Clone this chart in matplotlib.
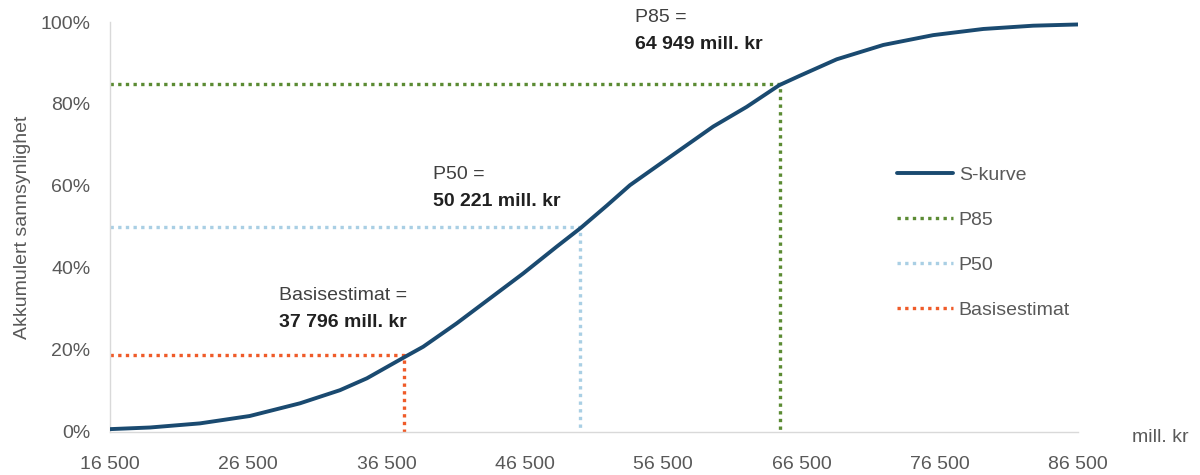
import matplotlib
matplotlib.use("Agg")
import matplotlib.pyplot as plt
from matplotlib.ticker import FuncFormatter

plt.rcParams['font.family'] = ['Liberation Sans', 'DejaVu Sans']

# S-curve (cumulative probability, %)
cost = [16500, 19400, 23000, 26600, 30240, 33130, 35080, 37760, 39150, 41570,
        43980, 46390, 48800, 50550, 52420, 54100, 57000, 60120, 62540, 64900,
        66390, 69050, 72420, 76030, 79650, 83260, 86500]
prob = [0.7, 1.1, 2.1, 3.9, 7.0, 10.2, 13.1, 18.2, 20.8, 26.5,
        32.6, 38.7, 45.2, 49.8, 55.2, 60.2, 67.1, 74.5, 79.3, 84.6,
        86.9, 90.9, 94.4, 96.8, 98.3, 99.1, 99.4]

# marker lines (x position, probability) and the labelled values
p85_x, p85_y, p85_label = 64949, 84.9, "64 949"
p50_x, p50_y, p50_label = 50500, 50.0, "50 221"
basis_x, basis_y, basis_label = 37796, 18.8, "37 796"

xticks = [16500, 26500, 36500, 46500, 56500, 66500, 76500, 86500]
yticks = [0, 20, 40, 60, 80, 100]

navy = '#1A4A70'
green = '#5B8B33'
lightblue = '#A9CFE4'
orange = '#EF5B29'
gray = '#595959'

fig = plt.figure(figsize=(12, 4.75), dpi=100)
ax = fig.add_axes([110/1200, 1-432/475, 968/1200, 410/475])

dots = (0, (1.0, 1.3))
lw_d = 2.4
kw = dict(lw=lw_d, ls=dots, dash_capstyle='butt')
ax.plot(cost, prob, color=navy, lw=2.8, label='S-kurve', solid_capstyle='round', zorder=3)
ax.plot([xticks[0], p85_x, p85_x], [p85_y, p85_y, 0], color=green, label='P85', **kw)
ax.plot([xticks[0], p50_x, p50_x], [p50_y, p50_y, 0], color=lightblue, label='P50', **kw)
ax.plot([xticks[0], basis_x, basis_x], [basis_y, basis_y, 0], color=orange, label='Basisestimat', **kw)

ax.set_xlim(xticks[0], xticks[-1])
ax.set_ylim(0, 100)
ax.set_xticks(xticks)
ax.set_yticks(yticks)
ax.xaxis.set_major_formatter(FuncFormatter(lambda v, p: f"{int(v):,}".replace(',', ' ')))
ax.yaxis.set_major_formatter(FuncFormatter(lambda v, p: f"{int(v)}%"))
ax.tick_params(length=0, labelsize=14, colors=gray)
ax.tick_params(axis='y', pad=14)
ax.tick_params(axis='x', pad=17)
for s in ['top', 'right']:
    ax.spines[s].set_visible(False)
for s in ['left', 'bottom']:
    ax.spines[s].set_color('#D9D9D9')
    ax.spines[s].set_linewidth(1)

ax.set_ylabel('Akkumulert sannsynlighet', fontsize=14, color=gray, labelpad=7)
fig.text(1132/1200, 1-437/475, 'mill. kr', fontsize=14, color=gray, va='center', ha='left')

def note(x, y, title, val):
    ax.text(x, y, title, fontsize=14, color='#404040', va='center', ha='left', clip_on=False)
    ax.text(x, y - 6.6, val + ' mill. kr', fontsize=14, color='#202020', fontweight='bold',
            va='center', ha='left', clip_on=False)

note(54461, 101, 'P85 =', p85_label)
note(39855, 62.7, 'P50 =', p50_label)
note(28720, 33.4, 'Basisestimat =', basis_label)

leg = ax.legend(loc='upper left', bbox_to_anchor=(879/1200, 1-149/475), bbox_transform=fig.transFigure,
                frameon=False, fontsize=14, handlelength=2.9, handletextpad=0.3, labelspacing=1.4)
for t in leg.get_texts():
    t.set_color(gray)

fig.savefig('out.png', dpi=100)
